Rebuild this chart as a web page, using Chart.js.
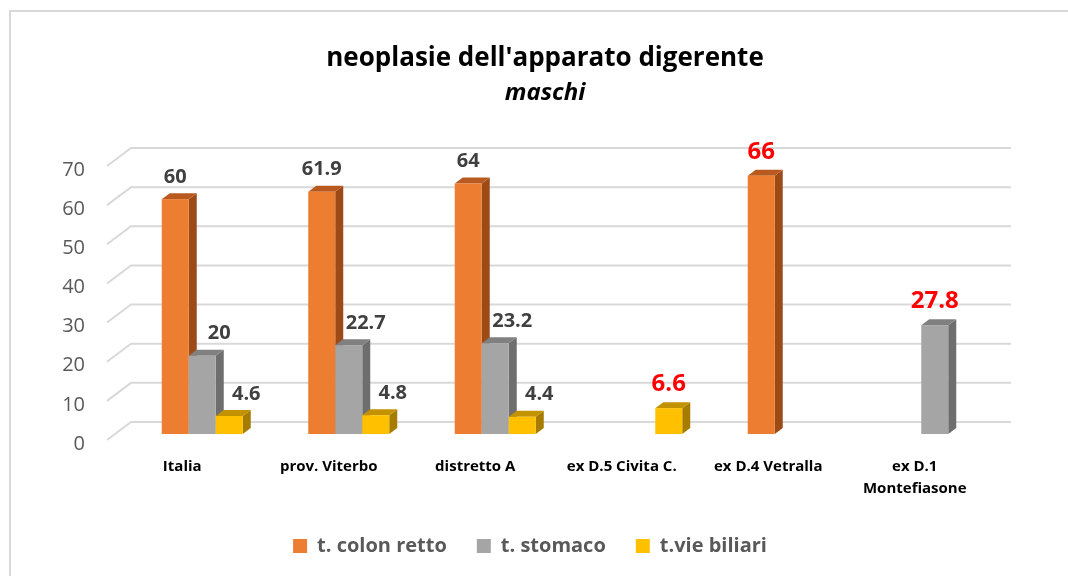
<!DOCTYPE html>
<html>
<head>
<meta charset="utf-8">
<script src="https://cdn.jsdelivr.net/npm/chart.js"></script>
<style>
  html, body { margin: 0; padding: 0; background: #fff; }
  canvas { display: block; }
</style>
</head>
<body>
<canvas id="chart" width="1068" height="576"></canvas>
<script>
const categories = ['Italia', 'prov. Viterbo', 'distretto A', 'ex D.5 Civita C.', 'ex D.4 Vetralla', ['ex D.1', 'Montefiasone']];
const colonRetto = [60, 61.9, 64, null, 66, null];
const stomaco = [20, 22.7, 23.2, null, null, 27.8];
const vieBiliari = [4.6, 4.8, 4.4, 6.6, null, null];
const seriesNames = ['t. colon retto', 't. stomaco', 't.vie biliari'];

const FONT = "'Open Sans', 'Noto Sans', sans-serif";
// front, side, top colours for each series
const faces = [
    ['#ED7D31', '#9E4A17', '#B85A20'],
    ['#A5A5A5', '#6E6E6E', '#808080'],
    ['#FFC000', '#A67C00', '#C29200']
];
const DX = 8, DY = -6;

// draws the excel-like 3d look: back wall grid, box bars, value labels
const bar3d = {
    id: 'bar3d',
    beforeDraw(chart) {
        const ctx = chart.ctx;
        ctx.save();
        ctx.fillStyle = '#fff';
        ctx.fillRect(0, 0, chart.width, chart.height);
        ctx.strokeStyle = '#D9D9D9';
        ctx.lineWidth = 2;
        ctx.strokeRect(10, 11, chart.width + 20, chart.height + 20);
        ctx.restore();
    },
    beforeDatasetsDraw(chart) {
        const {ctx, chartArea: a, scales: {y}} = chart;
        ctx.save();
        ctx.strokeStyle = '#D9D9D9';
        ctx.lineWidth = 2;
        y.ticks.forEach(t => {
            const p = y.getPixelForValue(t.value);
            ctx.beginPath();
            ctx.moveTo(a.left - 22, p + 6);
            ctx.lineTo(a.left + 2, p - 12);
            ctx.lineTo(a.right + 3, p - 12);
            ctx.stroke();
        });

        chart.data.datasets.forEach((ds, i) => {
            const meta = chart.getDatasetMeta(i);
            const [front, side, top] = faces[i];
            meta.data.forEach((bar, j) => {
                if (ds.data[j] == null) return;
                const {x, y: yt, base, width} = bar.getProps(['x', 'y', 'base', 'width'], true);
                const l = x - width / 2, r = x + width / 2;
                ctx.fillStyle = side;
                ctx.beginPath();
                ctx.moveTo(r, yt);
                ctx.lineTo(r + DX, yt + DY);
                ctx.lineTo(r + DX, base + DY);
                ctx.lineTo(r, base);
                ctx.closePath();
                ctx.fill();
                ctx.fillStyle = top;
                ctx.beginPath();
                ctx.moveTo(l, yt);
                ctx.lineTo(l + DX, yt + DY);
                ctx.lineTo(r + DX, yt + DY);
                ctx.lineTo(r, yt);
                ctx.closePath();
                ctx.fill();
                ctx.fillStyle = front;
                ctx.fillRect(l, yt, width, base - yt);
            });
        });

        // value labels
        ctx.textAlign = 'center';
        ctx.textBaseline = 'middle';
        chart.data.datasets.forEach((ds, i) => {
            const meta = chart.getDatasetMeta(i);
            meta.data.forEach((bar, j) => {
                const v = ds.data[j];
                if (v == null) return;
                const {x, y: yt} = bar.getProps(['x', 'y'], true);
                if (j >= 3) {
                    ctx.font = 'bold 24px ' + FONT;
                    ctx.fillStyle = '#FF0000';
                    ctx.fillText(String(v), x, yt - 24);
                } else {
                    ctx.font = 'bold 20px ' + FONT;
                    ctx.fillStyle = '#404040';
                    ctx.fillText(String(v), x + (i > 0 ? 17 : 0), yt - 22);
                }
            });
        });
        ctx.restore();
        return false;
    },
    afterLayout(chart) {
        // title sits a bit right of the page centre, legend a bit left
        chart.boxes.forEach(b => {
            if (b.fullSize && b !== chart.legend && b.options && b.options.text !== undefined) {
                b.left += 11;
                b.right += 11;
            }
        });
        chart.legend.left -= 4;
        chart.legend.right -= 4;
    }
};

const ctx = document.getElementById('chart').getContext('2d');
new Chart(ctx, {
    type: 'bar',
    data: {
        labels: categories,
        datasets: [
            { label: seriesNames[0], data: colonRetto, backgroundColor: faces[0][0] },
            { label: seriesNames[1], data: stomaco, backgroundColor: faces[1][0] },
            { label: seriesNames[2], data: vieBiliari, backgroundColor: faces[2][0] }
        ]
    },
    options: {
        responsive: false,
        animation: false,
        categoryPercentage: 0.553,
        barPercentage: 1,
        layout: { padding: { left: 60, right: 60, top: 0, bottom: 10 } },
        scales: {
            x: {
                grid: { display: false, drawTicks: false },
                border: { display: false },
                ticks: {
                    font: { family: FONT, size: 15, weight: 'bold', lineHeight: 1.5 },
                    color: '#000',
                    padding: 21,
                    labelOffset: -20,
                    maxRotation: 0,
                    autoSkip: false
                },
                afterFit: s => { s.height = 72; }
            },
            y: {
                min: 0,
                max: 70,
                grid: { display: false, drawTicks: false },
                border: { display: false },
                ticks: {
                    stepSize: 10,
                    font: { family: FONT, size: 20 },
                    color: '#595959',
                    padding: 44,
                    labelOffset: 10
                },
                afterFit: s => { s.width = 69; }
            }
        },
        plugins: {
            title: {
                display: true,
                text: "neoplasie dell'apparato digerente",
                color: '#000',
                font: { family: FONT, size: 26, weight: 'bold' },
                padding: { top: 43, bottom: 5 }
            },
            subtitle: {
                display: true,
                text: 'maschi',
                color: '#000',
                font: { family: FONT, size: 24, weight: 'bold', style: 'italic' },
                padding: { top: 0, bottom: 52 }
            },
            legend: {
                position: 'bottom',
                labels: {
                    boxWidth: 14,
                    boxHeight: 14,
                    padding: 30,
                    color: '#595959',
                    font: { family: FONT, size: 20, weight: 'bold' }
                }
            },
            tooltip: { enabled: false }
        }
    },
    plugins: [bar3d]
});
</script>
</body>
</html>
